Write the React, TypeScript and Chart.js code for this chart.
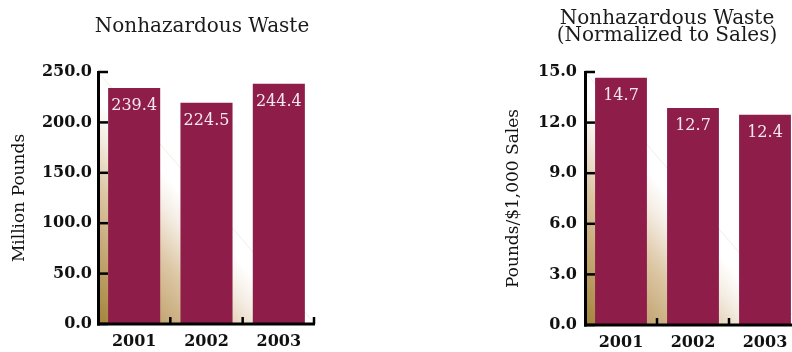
import React, { useEffect, useRef } from "react";
import { Chart, registerables } from "chart.js";

Chart.register(...registerables);

// ---- data ----
const years = ["2001", "2002", "2003"];
const wasteMillionPounds = [234.1, 219.5, 238.4];
const wasteValueLabels = ["239.4", "224.5", "244.4"];
const wastePerSales = [14.66, 12.86, 12.47];
const wastePerSalesLabels = ["14.7", "12.7", "12.4"];
const leftTitle = ["Nonhazardous Waste"];
const rightTitle = ["Nonhazardous Waste", "(Normalized to Sales)"];
const leftAxisTitle = "Million Pounds";
const rightAxisTitle = "Pounds/$1,000 Sales";

const BAR_COLOR = "#8e1e49";
const SERIF = "'DejaVu Serif', serif";

type Spec = {
  values: number[];
  labels: string[];
  max: number;
  step: number;
  titleLines: string[];
  titleX: number;
  titleBaselines: number[];
  yTitle: string;
  yTitlePad: number;
  yWidth: number;
  xHeight: number;
  padRight: number;
  padTop: number;
  tickPad: number;
};

function buildChart(canvas: HTMLCanvasElement, s: Spec) {
  const backdrop = {
    id: "backdrop",
    beforeDatasetsDraw(chart: any) {
      const { ctx, chartArea: a } = chart;
      const L = a.left, T = a.top, R = a.right, B = a.bottom;
      const w = R - L, h = B - T;
      const d = Math.hypot(w, h);
      const dist = (w * h) / d;
      const nx = h / d, ny = -w / d;
      const g = ctx.createLinearGradient(L, B, L + nx * dist, B + ny * dist);
      g.addColorStop(0, "#a2843a");
      g.addColorStop(0.3, "#c4a674");
      g.addColorStop(0.55, "#dcc6a4");
      g.addColorStop(0.75, "#f3ebe0");
      g.addColorStop(0.9, "#ffffff");
      g.addColorStop(1, "#ffffff");
      ctx.save();
      ctx.beginPath();
      ctx.moveTo(L, T);
      ctx.lineTo(L, B);
      ctx.lineTo(R, B);
      ctx.closePath();
      ctx.fillStyle = g;
      ctx.fill();
      ctx.strokeStyle = "rgba(225,215,195,0.45)";
      ctx.lineWidth = 1;
      ctx.beginPath();
      ctx.moveTo(L, T);
      ctx.lineTo(R, B);
      ctx.stroke();
      ctx.restore();
    },
  };

  const axes = {
    id: "axesAndLabels",
    afterDatasetsDraw(chart: any) {
      const { ctx, chartArea: a } = chart;
      const xs = chart.scales.x;
      const ys = chart.scales.y;
      const L = a.left, T = a.top, R = a.right, B = a.bottom;
      ctx.save();
      ctx.strokeStyle = "#000";
      ctx.lineCap = "butt";
      ctx.lineWidth = 3;
      ctx.beginPath();
      ctx.moveTo(L + 0.5, T - 1);
      ctx.lineTo(L + 0.5, B + 1.5);
      ctx.stroke();
      ctx.beginPath();
      ctx.moveTo(L - 1, B);
      ctx.lineTo(R, B);
      ctx.stroke();
      ctx.lineWidth = 2.5;
      ys.ticks.forEach((t: any) => {
        const py = ys.getPixelForValue(t.value);
        ctx.beginPath();
        ctx.moveTo(L, py);
        ctx.lineTo(L + 10, py);
        ctx.stroke();
      });
      const n = xs.ticks.length;
      for (let i = 0; i < n; i++) {
        const bx = i < n - 1 ? (xs.getPixelForTick(i) + xs.getPixelForTick(i + 1)) / 2 : R - 1;
        ctx.beginPath();
        ctx.moveTo(bx, B);
        ctx.lineTo(bx, B - 7);
        ctx.stroke();
      }
      // value labels inside bars
      ctx.fillStyle = "#f4e9ee";
      ctx.font = `16px ${SERIF}`;
      ctx.textAlign = "center";
      ctx.textBaseline = "middle";
      chart.getDatasetMeta(0).data.forEach((bar: any, i: number) => {
        ctx.fillText(s.labels[i], bar.x, bar.y + 18);
      });
      ctx.restore();
    },
  };

  const heading = {
    id: "heading",
    afterDraw(chart: any) {
      const { ctx } = chart;
      ctx.save();
      ctx.fillStyle = "#1a1a1a";
      ctx.font = `20px ${SERIF}`;
      ctx.textAlign = "center";
      ctx.textBaseline = "alphabetic";
      s.titleLines.forEach((line, i) => ctx.fillText(line, s.titleX, s.titleBaselines[i]));
      ctx.restore();
    },
  };

  return new Chart(canvas, {
    type: "bar",
    data: {
      labels: years,
      datasets: [
        {
          data: s.values,
          backgroundColor: BAR_COLOR,
          borderWidth: 0,
          barPercentage: 0.72,
          categoryPercentage: 1,
        },
      ],
    },
    options: {
      responsive: false,
      animation: false,
      layout: { padding: { top: s.padTop, right: s.padRight, left: 0, bottom: 0 } },
      plugins: { legend: { display: false }, tooltip: { enabled: false }, title: { display: false } },
      scales: {
        x: {
          grid: { display: false, drawTicks: false },
          border: { display: false },
          ticks: { color: "#111", font: { family: SERIF, size: 16, weight: "bold" }, padding: 8 },
          afterFit(scale: any) {
            scale.height = s.xHeight;
          },
        },
        y: {
          min: 0,
          max: s.max,
          grid: { display: false, drawTicks: false },
          border: { display: false },
          ticks: {
            stepSize: s.step,
            color: "#111",
            padding: s.tickPad,
            font: { family: SERIF, size: 16, weight: "bold" },
            callback: (v: any) => Number(v).toFixed(1),
          },
          title: {
            display: true,
            text: s.yTitle,
            color: "#111",
            font: { family: SERIF, size: 17 },
            padding: { top: s.yTitlePad, bottom: 0 },
          },
          afterFit(scale: any) {
            scale.width = s.yWidth;
          },
        },
      },
    },
    plugins: [backdrop, axes, heading],
  } as any);
}

function ChartBox({ spec, left, width }: { spec: Spec; left: number; width: number }) {
  const ref = useRef<HTMLCanvasElement | null>(null);
  useEffect(() => {
    const c = buildChart(ref.current as HTMLCanvasElement, spec);
    return () => c.destroy();
  }, []);
  return (
    <div style={{ position: "absolute", left, top: 0, width, height: 352 }}>
      <canvas ref={ref} width={width} height={352} style={{ display: "block" }} />
    </div>
  );
}

const leftSpec: Spec = {
  values: wasteMillionPounds,
  labels: wasteValueLabels,
  max: 250,
  step: 50,
  titleLines: leftTitle,
  titleX: 202,
  titleBaselines: [32],
  yTitle: leftAxisTitle,
  yTitlePad: 9,
  yWidth: 98,
  xHeight: 28,
  padRight: 15,
  padTop: 72,
  tickPad: 6,
};

const rightSpec: Spec = {
  values: wastePerSales,
  labels: wastePerSalesLabels,
  max: 15,
  step: 3,
  titleLines: rightTitle,
  titleX: 175,
  titleBaselines: [24, 41],
  yTitle: rightAxisTitle,
  yTitlePad: 11,
  yWidth: 93,
  xHeight: 27,
  padRight: 11,
  padTop: 72,
  tickPad: 8,
};

export default function App() {
  return (
    <div
      style={{
        position: "absolute",
        left: 0,
        top: 0,
        width: 792,
        height: 352,
        overflow: "hidden",
        background: "#fff",
      }}
    >
      <ChartBox spec={leftSpec} left={0} width={330} />
      <ChartBox spec={rightSpec} left={492} width={320} />
    </div>
  );
}
